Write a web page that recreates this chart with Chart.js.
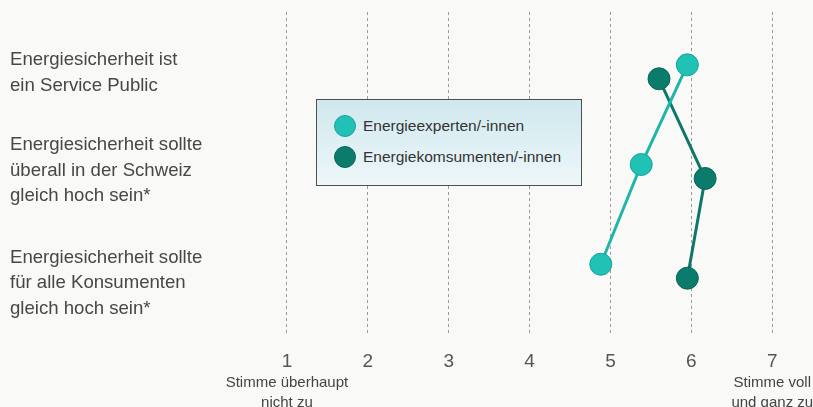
<!DOCTYPE html>
<html lang="de">
  <head>
    <meta charset="UTF-8" />
    <title>Energiesicherheit</title>
    <script src="https://cdn.jsdelivr.net/npm/chart.js"></script>
    <style>
      body {
        margin: 0;
        background: #f9f9f7;
        font-family: "Liberation Sans", Helvetica, Arial, sans-serif;
      }
      #chartContainer {
        position: relative;
        width: 813px;
        height: 407px;
      }
      #legend {
        position: absolute;
        left: 316px;
        top: 99px;
        width: 264px;
        height: 85px;
        border: 1.5px solid #4f4f4f;
        background: linear-gradient(to bottom, #cfe8ee, #eef7f9);
      }
      .legend-item {
        position: absolute;
        left: 17px;
        height: 24px;
        display: flex;
        align-items: center;
        font-size: 15.5px;
        color: #333;
      }
      .legend-dot {
        width: 22px;
        height: 22px;
        border-radius: 50%;
        margin-right: 7px;
        box-sizing: border-box;
      }
    </style>
  </head>
  <body>
    <div id="chartContainer">
      <canvas id="agreeChart"></canvas>
      <div id="legend"></div>
    </div>

    <script>
      // statements (y labels) and where they sit on the row axis
      const statements = [
        ["Energiesicherheit ist", "ein Service Public"],
        ["Energiesicherheit sollte", "überall in der Schweiz", "gleich hoch sein*"],
        ["Energiesicherheit sollte", "für alle Konsumenten", "gleich hoch sein*"],
      ];
      const statementRows = [1.0, 1.98, 3.11];

      // scale 1..7
      const scaleTicks = [1, 2, 3, 4, 5, 6, 7];
      const endTicks = [1, 7];
      const endLabels = [
        ["Stimme überhaupt", "nicht zu"],
        ["Stimme voll", "und ganz zu"],
      ];

      // mean agreement per statement
      const expertsScore = [5.95, 5.38, 4.88];
      const expertsRow = [0.92, 1.92, 2.92];
      const consumersScore = [5.6, 6.17, 5.95];
      const consumersRow = [1.06, 2.06, 3.06];

      const X_MIN = 0.42;
      const X_MAX = 7.355;

      function zip(xs, ys) {
        return xs.map((x, i) => ({ x: x, y: ys[i] }));
      }

      function noEdgePadding(scale) {
        scale.paddingLeft = 0;
        scale.paddingRight = 0;
        scale.paddingTop = 0;
        scale.paddingBottom = 0;
      }

      const ctx = document.getElementById("agreeChart").getContext("2d");
      const chart = new Chart(ctx, {
        type: "scatter",
        data: {
          datasets: [
            {
              label: "Energieexperten/-innen",
              data: zip(expertsScore, expertsRow),
              showLine: true,
              borderColor: "#1fb6aa",
              backgroundColor: "#22c1b6",
              pointBackgroundColor: "#22c1b6",
              pointBorderColor: "#17a398",
              borderWidth: 3,
              pointRadius: 11,
              pointHoverRadius: 11,
              pointBorderWidth: 1,
              order: 1,
            },
            {
              label: "Energiekomsumenten/-innen",
              data: zip(consumersScore, consumersRow),
              showLine: true,
              borderColor: "#0f7767",
              backgroundColor: "#0b7b6b",
              pointBackgroundColor: "#0b7b6b",
              pointBorderColor: "#086657",
              borderWidth: 3,
              pointRadius: 11,
              pointHoverRadius: 11,
              pointBorderWidth: 1,
              order: 2,
            },
          ],
        },
        options: {
          responsive: true,
          maintainAspectRatio: false,
          animation: false,
          layout: {
            padding: { left: 10, top: 12, right: 0, bottom: 0 },
          },
          plugins: {
            legend: { display: false },
            tooltip: { enabled: false },
          },
          scales: {
            x: {
              type: "linear",
              position: "bottom",
              min: X_MIN,
              max: X_MAX,
              afterBuildTicks: (scale) => {
                scale.ticks = scaleTicks.map((v) => ({ value: v }));
              },
              afterFit: (scale) => {
                scale.height = 36;
                noEdgePadding(scale);
              },
              grid: {
                color: "#9a9a9a",
                lineWidth: 1,
                drawTicks: false,
              },
              border: { display: false, dash: [3, 3] },
              ticks: {
                autoSkip: false,
                maxRotation: 0,
                padding: 15,
                color: "#555",
                font: { size: 19, lineHeight: 1.2 },
                callback: (value) => String(value),
              },
            },
            x2: {
              type: "linear",
              position: "bottom",
              min: X_MIN,
              max: X_MAX,
              afterBuildTicks: (scale) => {
                scale.ticks = endTicks.map((v) => ({ value: v }));
              },
              afterFit: (scale) => {
                scale.height = 36;
                noEdgePadding(scale);
              },
              grid: { display: false, drawTicks: false },
              border: { display: false },
              ticks: {
                autoSkip: false,
                maxRotation: 0,
                padding: 2,
                color: "#444",
                font: { size: 15, lineHeight: "20px" },
                callback: (value, index) => endLabels[index],
              },
            },
            y: {
              type: "linear",
              position: "left",
              reverse: true,
              min: 0.39,
              max: 3.63,
              afterBuildTicks: (scale) => {
                scale.ticks = statementRows.map((v) => ({ value: v }));
              },
              afterFit: (scale) => {
                scale.width = 230;
                noEdgePadding(scale);
              },
              grid: { display: false, drawTicks: false },
              border: { display: false },
              ticks: {
                autoSkip: false,
                crossAlign: "far",
                padding: 0,
                color: "#474747",
                font: { size: 18.6, lineHeight: "25.5px" },
                callback: (value, index) => statements[index],
              },
            },
          },
        },
      });

      // legend box drawn as html from the chart datasets
      const legendEl = document.getElementById("legend");
      chart.data.datasets.forEach((ds, i) => {
        const item = document.createElement("div");
        item.className = "legend-item";
        item.style.top = 14 + i * 31 + "px";
        const dot = document.createElement("span");
        dot.className = "legend-dot";
        dot.style.background = ds.pointBackgroundColor;
        dot.style.border = "1px solid " + ds.pointBorderColor;
        const text = document.createElement("span");
        text.textContent = ds.label;
        item.appendChild(dot);
        item.appendChild(text);
        legendEl.appendChild(item);
      });
    </script>
  </body>
</html>
